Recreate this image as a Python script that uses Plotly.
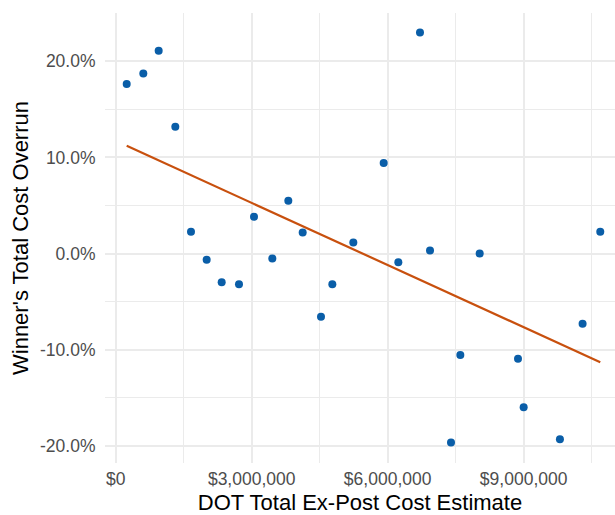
import numpy as np
import plotly.graph_objects as go

# Data
cost_estimate = [243000, 609000, 948000, 1315000, 1661000, 2007000, 2338000, 2720000,
                 3051000, 3455000, 3808000, 4125000, 4529000, 4779000, 5242000, 5912000,
                 6235000, 6713000, 6934000, 7397000, 7603000, 8030000, 8875000, 9000000,
                 9800000, 10300000, 10690000]
cost_overrun = [0.1763, 0.1873, 0.2110, 0.1319, 0.0227, -0.0065, -0.0300, -0.0320,
                0.0382, -0.0052, 0.0548, 0.0220, -0.0658, -0.0320, 0.0114, 0.0943,
                -0.0090, 0.2300, 0.0031, -0.1966, -0.1057, 0.0000, -0.1095, -0.1601,
                -0.1932, -0.0730, 0.0227]

x_tick_vals = [0, 3000000, 6000000, 9000000]
x_tick_text = ["$0", "$3,000,000", "$6,000,000", "$9,000,000"]
x_minor_vals = [1500000, 4500000, 7500000, 10500000]
y_tick_vals = [-0.2, -0.1, 0.0, 0.1, 0.2]
y_tick_text = ["-20.0%", "-10.0%", "0.0%", "10.0%", "20.0%"]
y_minor_vals = [-0.15, -0.05, 0.05, 0.15, 0.25]

# Linear fit (like geom_smooth(method="lm"))
xa = np.array(cost_estimate, dtype=float)
ya = np.array(cost_overrun, dtype=float)
slope, intercept = np.polyfit(xa, ya, 1)
fit_x = [xa.min(), xa.max()]
fit_y = [intercept + slope * v for v in fit_x]

FONT = "Liberation Sans, Arial, sans-serif"
GRID = "#ebebeb"

fig = go.Figure()
fig.add_trace(go.Scatter(x=cost_estimate, y=cost_overrun, mode="markers",
                         marker=dict(color="#0a5ea8", size=8, line=dict(width=0)),
                         showlegend=False))
fig.add_trace(go.Scatter(x=fit_x, y=fit_y, mode="lines",
                         line=dict(color="#c8500e", width=2.2),
                         showlegend=False))

fig.update_layout(
    width=615, height=515, autosize=False,
    margin=dict(l=105, r=0, t=13, b=49, pad=0),
    paper_bgcolor="white", plot_bgcolor="white",
    font=dict(family=FONT),
    xaxis=dict(
        range=[-236000, 11015000],
        tickmode="array", tickvals=x_tick_vals, ticktext=x_tick_text,
        ticks="outside", ticklen=0, tickcolor="rgba(0,0,0,0)",
        tickfont=dict(size=17.5, color="#4d4d4d", family=FONT),
        showgrid=True, gridcolor=GRID, gridwidth=1.6,
        minor=dict(tickvals=x_minor_vals, showgrid=True, gridcolor=GRID, gridwidth=0.9),
        zeroline=False, showline=False,
        title=dict(text="DOT Total Ex-Post Cost Estimate",
                   font=dict(size=22, color="black", family=FONT), standoff=11),
    ),
    yaxis=dict(
        range=[-0.218, 0.2503],
        tickmode="array", tickvals=y_tick_vals, ticktext=y_tick_text,
        ticks="outside", ticklen=5, tickcolor="rgba(0,0,0,0)",
        tickfont=dict(size=17.5, color="#4d4d4d", family=FONT),
        showgrid=True, gridcolor=GRID, gridwidth=1.6,
        minor=dict(tickvals=y_minor_vals, showgrid=True, gridcolor=GRID, gridwidth=0.9),
        zeroline=False, showline=False,
        title=dict(text="Winner's Total Cost Overrun",
                   font=dict(size=22, color="black", family=FONT), standoff=5),
    ),
)

fig.write_html("out.html", config={"displayModeBar": False},
               post_script="document.body.style.margin='0';document.body.style.overflow='hidden';")
